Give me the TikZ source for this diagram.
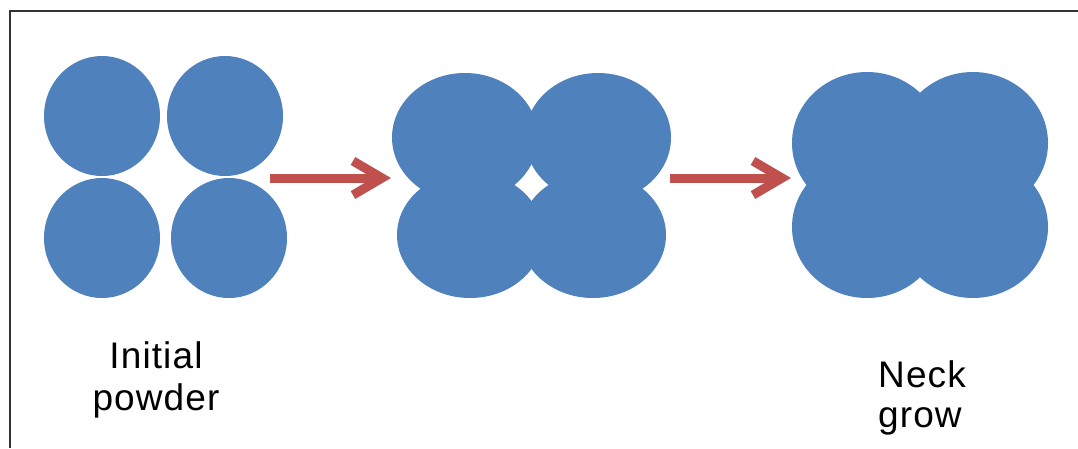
\documentclass[tikz,border=0pt]{standalone}
\usepackage{fontspec}
\setmainfont{Liberation Sans}[LetterSpace=3]
\usetikzlibrary{shapes.geometric}
\definecolor{pblue}{HTML}{4F81BD}
\definecolor{ared}{HTML}{C0504D}
\tikzset{
  particle/.style={ellipse, fill=pblue, draw=none, inner sep=0pt, outer sep=0pt},
  arrowline/.style={draw=ared, line width=9pt, line cap=butt, line join=miter},
  arrowshadow/.style={draw=black, opacity=0.15, line width=9pt, line cap=butt, line join=miter},
  label/.style={inner sep=0pt, font=\fontsize{37}{41}\selectfont},
  frame/.style={draw=black!80, line width=2pt}
}
\begin{document}
\begin{tikzpicture}[x=1pt, y=-1pt]
\useasboundingbox (0,0) rectangle (1078,448);
\fill[white] (0,0) rectangle (1078,448);
\draw[frame] (9.5,448) -- (9.5,11) -- (1078,11);

% stage 1: initial powder
\node[particle, minimum width=116pt, minimum height=120pt] (p1a) at (102,116) {};
\node[particle, minimum width=116pt, minimum height=120pt] (p1b) at (225,116) {};
\node[particle, minimum width=116pt, minimum height=120pt] (p1c) at (102,238) {};
\node[particle, minimum width=116pt, minimum height=120pt] (p1d) at (229,238) {};

% stage 2
\node[particle, minimum width=146pt, minimum height=129pt] (p2a) at (465,137.5) {};
\node[particle, minimum width=146pt, minimum height=129pt] (p2b) at (598,137.5) {};
\node[particle, minimum width=146pt, minimum height=126pt] (p2c) at (470,235) {};
\node[particle, minimum width=146pt, minimum height=126pt] (p2d) at (593,235) {};

% stage 3
\node[particle, minimum width=150pt, minimum height=142pt] (p3a) at (867,143) {};
\node[particle, minimum width=150pt, minimum height=142pt] (p3b) at (973,143) {};
\node[particle, minimum width=150pt, minimum height=142pt] (p3c) at (867,227) {};
\node[particle, minimum width=150pt, minimum height=142pt] (p3d) at (973,227) {};

% arrows
\coordinate (a1s) at (270,178);
\coordinate (a1v) at (382,178);
\coordinate (a1u) at (353,161);
\coordinate (a1l) at (353,195);
\coordinate (a2s) at (670,178);
\coordinate (a2v) at (782,178);
\coordinate (a2u) at (753,161);
\coordinate (a2l) at (753,195);

\begin{scope}[shift={(1.5,2.5)}]
\draw[arrowshadow] (a1s) -- (a1v);
\draw[arrowshadow] (a1u) -- (a1v) -- (a1l);
\draw[arrowshadow] (a2s) -- (a2v);
\draw[arrowshadow] (a2u) -- (a2v) -- (a2l);
\end{scope}
\draw[arrowline] (a1s) -- (a1v);
\draw[arrowline] (a1u) -- (a1v) -- (a1l);
\draw[arrowline] (a2s) -- (a2v);
\draw[arrowline] (a2u) -- (a2v) -- (a2l);

% labels
\node[label, anchor=base] (l1a) at (156,368) {Initial};
\node[label, anchor=base] (l1b) at (156,410) {powder};
\node[label, anchor=base west] (l3a) at (878,387) {Neck};
\node[label, anchor=base west] (l3b) at (878,427) {grow};
\end{tikzpicture}
\end{document}
